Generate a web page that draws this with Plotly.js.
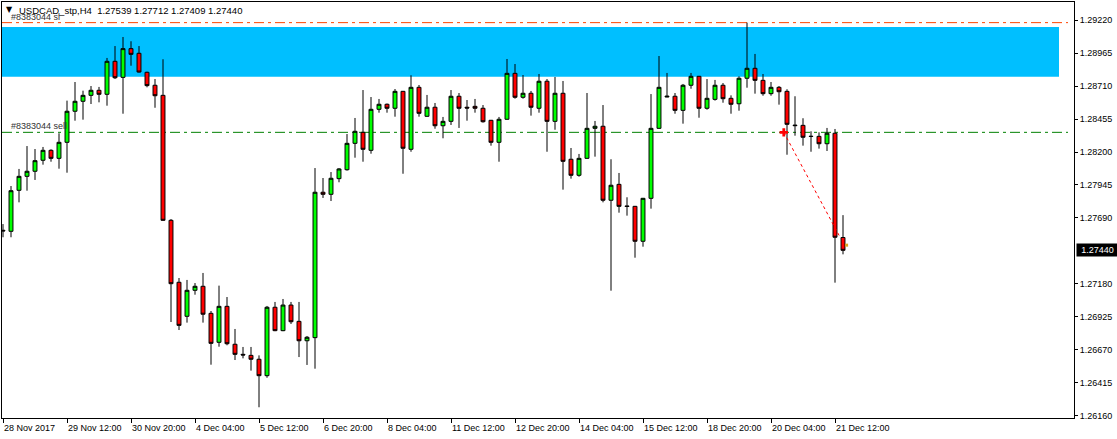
<!DOCTYPE html>
<html>
<head>
<meta charset="utf-8">
<script src="https://cdn.plot.ly/plotly-3.0.1.min.js"></script>
<style>html,body{margin:0;padding:0;background:#fff;}#chart{width:1117px;height:439px;}</style>
</head>
<body>
<div id="chart"></div>
<script>
// ---- data (USDCAD_stp, H4) ----
const barOpen = [1.27595,1.27587,1.27904,1.28012,1.28051,1.28136,1.28213,1.28151,1.28275,1.28515,
1.28592,1.28638,1.28677,1.28646,1.28901,1.28777,1.28999,1.28963,1.28816,1.28716,
1.28638,1.27672,1.27193,1.26930,1.27131,1.27162,1.26953,1.26729,1.27007,1.26714,
1.26636,1.26628,1.26598,1.26471,1.27000,1.26819,1.27017,1.26891,1.26741,1.26765,
1.27889,1.27873,1.27994,1.28063,1.28267,1.28352,1.28213,1.28530,1.28569,1.28538,
1.28669,1.28221,1.28700,1.28476,1.28546,1.28403,1.28437,1.28631,1.28546,1.28553,
1.28538,1.28445,1.28275,1.28453,1.28808,1.28623,1.28654,1.28538,1.28747,1.28437,
1.28654,1.28144,1.28020,1.28151,1.28383,1.28399,1.27827,1.27950,1.27783,1.27780,
1.27510,1.27842,1.28383,1.28625,1.28631,1.28522,1.28716,1.28785,1.28538,1.28607,
1.28716,1.28615,1.28573,1.28770,1.28847,1.28754,1.28651,1.28700,1.28669,1.28408,
1.28406,1.28322,1.28321,1.28264,1.28345,1.27539];
const barHigh = [1.27643,1.27937,1.28069,1.28246,1.28223,1.28239,1.28221,1.28345,1.28597,1.28741,
1.28674,1.28710,1.28703,1.28927,1.29019,1.29089,1.29056,1.29019,1.28821,1.28764,
1.28917,1.27682,1.27226,1.27211,1.27187,1.27265,1.26971,1.27167,1.27079,1.26832,
1.26693,1.26693,1.26628,1.27010,1.27041,1.27064,1.27041,1.27041,1.26778,1.28076,
1.27999,1.28045,1.28076,1.28339,1.28463,1.28679,1.28625,1.28610,1.28575,1.28687,
1.28672,1.28793,1.28718,1.28641,1.28579,1.28471,1.28679,1.28656,1.28602,1.28610,
1.28563,1.28448,1.28471,1.28919,1.28880,1.28795,1.28672,1.28803,1.28764,1.28780,
1.28749,1.28231,1.28185,1.28656,1.28440,1.28563,1.28144,1.28038,1.27850,1.27783,
1.27845,1.28648,1.28942,1.28811,1.28656,1.28726,1.28811,1.28788,1.28764,1.28757,
1.28733,1.28638,1.28785,1.29200,1.28958,1.28803,1.28741,1.28710,1.28685,1.28631,
1.28461,1.28360,1.28352,1.28386,1.28378,1.27712];
const barLow = [1.27541,1.27541,1.27811,1.27901,1.27984,1.28102,1.28125,1.28071,1.28040,1.28442,
1.28450,1.28571,1.28584,1.28558,1.28764,1.28496,1.28867,1.28813,1.28700,1.28542,
1.27668,1.26886,1.26824,1.26881,1.27097,1.26881,1.26556,1.26695,1.26706,1.26592,
1.26605,1.26510,1.26227,1.26455,1.26815,1.26815,1.26871,1.26615,1.26554,1.26525,
1.27845,1.27821,1.27966,1.28056,1.28156,1.28125,1.28187,1.28504,1.28504,1.28473,
1.28032,1.28202,1.28473,1.28472,1.28380,1.28306,1.28409,1.28386,1.28442,1.28504,
1.28427,1.28249,1.28125,1.28450,1.28612,1.28612,1.28481,1.28504,1.28202,1.28372,
1.27909,1.27994,1.28009,1.28148,1.28164,1.27811,1.27128,1.27731,1.27708,1.27383,
1.27468,1.27762,1.28380,1.28623,1.28496,1.28419,1.28689,1.28465,1.28527,1.28597,
1.28581,1.28496,1.28519,1.28697,1.28651,1.28635,1.28635,1.28566,1.28179,1.28326,
1.28249,1.28202,1.28226,1.28208,1.27190,1.27409];
const barClose = [1.27590,1.27901,1.28012,1.28051,1.28133,1.28213,1.28151,1.28275,1.28515,1.28592,
1.28638,1.28677,1.28646,1.28901,1.28774,1.28999,1.28955,1.28818,1.28713,1.28635,
1.27672,1.27182,1.26860,1.27131,1.27162,1.26946,1.26721,1.27007,1.26718,1.26636,
1.26631,1.26598,1.26471,1.27000,1.26819,1.27017,1.26888,1.26741,1.26768,1.27889,
1.27873,1.27997,1.28069,1.28267,1.28360,1.28221,1.28530,1.28569,1.28538,1.28669,
1.28229,1.28700,1.28499,1.28546,1.28403,1.28437,1.28631,1.28538,1.28540,1.28538,
1.28434,1.28275,1.28453,1.28808,1.28623,1.28654,1.28546,1.28747,1.28437,1.28654,
1.28128,1.28020,1.28151,1.28383,1.28399,1.27827,1.27943,1.27780,1.27779,1.27510,
1.27842,1.28383,1.28700,1.28631,1.28522,1.28716,1.28785,1.28538,1.28615,1.28716,
1.28612,1.28569,1.28770,1.28847,1.28754,1.28651,1.28700,1.28666,1.28414,1.28404,
1.28314,1.28320,1.28264,1.28345,1.27541,1.27440];

const timeTickBars = [0,8,16,24,32,40,48,56,64,72,80,88,96,104];
const timeTickLabels = ["28 Nov 2017","29 Nov 12:00","30 Nov 20:00","4 Dec 04:00","5 Dec 12:00","6 Dec 20:00",
  "8 Dec 04:00","11 Dec 12:00","12 Dec 20:00","14 Dec 04:00","15 Dec 12:00","18 Dec 20:00","20 Dec 04:00","21 Dec 12:00"];
const priceTicks = [1.29220,1.28965,1.28710,1.28455,1.28200,1.27945,1.27690,1.27180,1.26925,1.26670,1.26415,1.26160];

const symbolName = "USDCAD_stp,H4";
const lastPrice = 1.27440;
const slPrice = 1.29200;
const sellPrice = 1.28352;
const zoneTop = 1.29166;
const zoneBottom = 1.28782;
const zoneEndBar = 132;
const tradeBars = [97.6, 104.6];
const tradePrices = [1.28352, 1.27545];
const closeMarkBar = [105.45];
const closeMarkPrice = [1.27480];
const orderLabel = "#8383044";

// ---- chart ----
const nBars = barOpen.length;
const barIdx = Array.from({length: nBars}, (_, i) => i);
const fmt = v => v.toFixed(5);

const W = 1117, H = 439;
const mL = 2, mR = 43, mT = 2, mB = 21;
const pw = W - mL - mR, ph = H - mT - mB;
const px2paperX = x => (x - mL) / pw;
const px2paperY = y => (H - mB - y) / ph;

const FONT = "Liberation Sans, Arial, sans-serif";

const traces = [
  {
    type: "candlestick",
    x: barIdx, open: barOpen, high: barHigh, low: barLow, close: barClose,
    increasing: {fillcolor: "#00FF00", line: {color: "#000000", width: 1}},
    decreasing: {fillcolor: "#FF0000", line: {color: "#000000", width: 1}},
    whiskerwidth: 0,
    hoverinfo: "skip",
    showlegend: false
  },
  {
    type: "scatter", mode: "lines",
    x: tradeBars, y: tradePrices,
    line: {color: "#FF0000", width: 1, dash: "dot"},
    hoverinfo: "skip", showlegend: false
  },
  {
    type: "scatter", mode: "markers",
    x: [tradeBars[0]], y: [tradePrices[0]],
    marker: {symbol: "cross", size: 7, color: "#FF0000", line: {width: 0}},
    hoverinfo: "skip", showlegend: false
  },
  {
    type: "scatter", mode: "markers",
    x: closeMarkBar, y: closeMarkPrice,
    marker: {symbol: "square", size: 3, color: "#DAA520", line: {width: 0}},
    hoverinfo: "skip", showlegend: false
  }
];

const annotations = [];
timeTickBars.forEach((b, k) => {
  annotations.push({
    x: b, xref: "x", y: px2paperY(428), yref: "paper",
    text: timeTickLabels[k], showarrow: false,
    xanchor: "left", yanchor: "middle", xshift: -1,
    font: {family: FONT, size: 9, color: "#000"}
  });
});
annotations.push({
  x: px2paperX(4), xref: "paper", y: px2paperY(9), yref: "paper",
  text: "\u25BC", showarrow: false, xanchor: "left", yanchor: "middle",
  font: {family: "DejaVu Sans, sans-serif", size: 8, color: "#000"}
});
annotations.push({
  x: px2paperX(17), xref: "paper", y: px2paperY(10), yref: "paper",
  text: symbolName + "&nbsp;&nbsp;" + [barOpen[nBars-1], barHigh[nBars-1], barLow[nBars-1], barClose[nBars-1]].map(fmt).join(" "),
  showarrow: false, xanchor: "left", yanchor: "middle",
  font: {family: FONT, size: 9.5, color: "#000"}
});
annotations.push({
  x: px2paperX(9), xref: "paper", y: slPrice, yref: "y", yshift: 6,
  text: orderLabel + " sl", showarrow: false, xanchor: "left", yanchor: "middle",
  font: {family: FONT, size: 9, color: "#333"}
});
annotations.push({
  x: px2paperX(9), xref: "paper", y: sellPrice, yref: "y", yshift: 6,
  text: orderLabel + " sell", showarrow: false, xanchor: "left", yanchor: "middle",
  font: {family: FONT, size: 9, color: "#333"}
});
annotations.push({
  x: px2paperX(1076), xref: "paper", y: lastPrice, yref: "y",
  text: fmt(lastPrice), showarrow: false, xanchor: "left", yanchor: "middle",
  bgcolor: "#000000", borderpad: 1, width: 39,
  font: {family: FONT, size: 9, color: "#FFFFFF"}
});

const shapes = [
  {type: "rect", xref: "x", yref: "y", x0: -3, x1: zoneEndBar, y0: zoneBottom, y1: zoneTop,
   fillcolor: "#00BFFF", line: {width: 0}, layer: "below"},
  {type: "line", xref: "paper", yref: "y", x0: 0, x1: px2paperX(1068), y0: slPrice, y1: slPrice,
   line: {color: "#FF4500", width: 1, dash: "10px,4px,3px,4px"}, layer: "below"},
  {type: "line", xref: "paper", yref: "y", x0: 0, x1: px2paperX(1068), y0: sellPrice, y1: sellPrice,
   line: {color: "#008000", width: 1, dash: "10px,4px,3px,4px"}, layer: "below"}
];

const layout = {
  width: W, height: H,
  margin: {l: mL, r: mR, t: mT, b: mB, pad: 0},
  paper_bgcolor: "#FFFFFF", plot_bgcolor: "#FFFFFF",
  font: {family: FONT, size: 9, color: "#000"},
  showlegend: false,
  boxgap: 0.3, boxgroupgap: 0.3,
  xaxis: {
    range: [-0.125, 133.875], fixedrange: true,
    showgrid: false, zeroline: false,
    showline: true, mirror: true, linecolor: "#000", linewidth: 1,
    tickmode: "array", tickvals: timeTickBars, ticktext: timeTickBars.map(() => ""),
    ticks: "outside", ticklen: 4, tickcolor: "#000", tickwidth: 1,
    showticklabels: false,
    rangeslider: {visible: false}
  },
  yaxis: {
    side: "right",
    range: [1.261439, 1.293595], fixedrange: true,
    showgrid: false, zeroline: false,
    showline: true, mirror: true, linecolor: "#000", linewidth: 1,
    tickmode: "array", tickvals: priceTicks, ticktext: priceTicks.map(fmt),
    ticks: "outside", ticklen: 3, tickcolor: "#000", tickwidth: 1,
    tickfont: {family: FONT, size: 9, color: "#000"}
  },
  shapes: shapes,
  annotations: annotations
};

Plotly.newPlot("chart", traces, layout, {staticPlot: true, displayModeBar: false});
</script>
</body>
</html>
